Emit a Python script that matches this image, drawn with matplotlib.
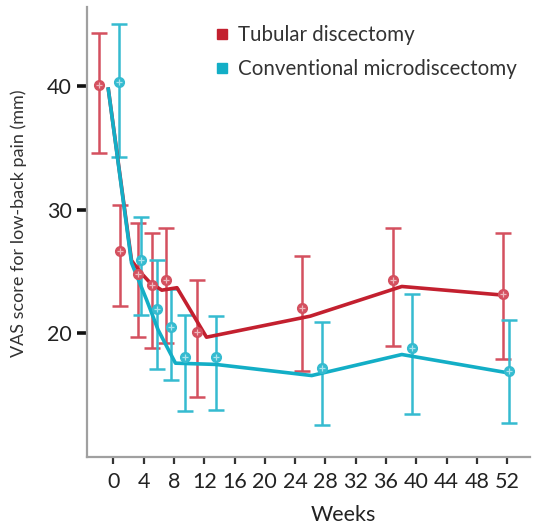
import matplotlib
matplotlib.use("Agg")
import matplotlib.pyplot as plt
from matplotlib.lines import Line2D
import numpy as np

plt.rcParams['font.family'] = ['Lato', 'DejaVu Sans']

# marker positions (weeks, dodged as in the picture), means and bar ends
tub_weeks = [-1.85, 0.9, 3.3, 5.1, 7.0, 11.0, 24.9, 36.9, 51.5]
tub_mean = [40.1, 26.7, 24.8, 23.9, 24.3, 20.1, 22.1, 24.3, 23.2]
tub_hi = [44.3, 30.4, 28.9, 28.1, 28.5, 24.3, 26.3, 28.5, 28.1]
tub_lo = [34.6, 22.2, 19.7, 18.8, 19.2, 14.9, 17.0, 19.0, 17.9]

con_weeks = [0.7, 3.6, 5.7, 7.6, 9.5, 13.6, 27.5, 39.4, 52.3]
con_mean = [40.3, 25.9, 22.0, 20.5, 18.1, 18.1, 17.2, 18.8, 17.0]
con_hi = [45.0, 29.4, 25.9, 23.6, 21.5, 21.4, 20.9, 23.2, 21.1]
con_lo = [34.3, 21.5, 17.1, 16.2, 13.7, 13.8, 12.6, 13.5, 12.8]

# trend lines
tub_line_x = [-0.7, 2.4, 3.5, 4.85, 6.4, 8.4, 12.3, 26.0, 38.1, 51.5]
tub_line_y = [39.9, 25.9, 25.0, 24.1, 23.5, 23.7, 19.7, 21.4, 23.8, 23.1]
con_line_x = [-0.7, 2.4, 4.4, 5.9, 8.2, 13.5, 26.2, 38.1, 52.3]
con_line_y = [39.9, 25.7, 22.7, 20.3, 17.6, 17.5, 16.6, 18.3, 16.8]

red = "#c3202f"
red_bar = "#d4505f"
cyan = "#13aec6"
cyan_bar = "#35bbd0"

fig = plt.figure(figsize=(5.33, 5.31), dpi=100)
ax = fig.add_axes([0.163, 0.139, 0.831, 0.848])


def series(xs, mean, lo, hi, line_x, line_y, c_line, c_bar):
    mean = np.asarray(mean)
    yerr = [mean - np.asarray(lo), np.asarray(hi) - mean]
    ax.errorbar(xs, mean, yerr=yerr, fmt="none", ecolor=c_bar, elinewidth=1.8,
                capsize=6, capthick=1.8, zorder=2)
    ax.plot(xs, mean, linestyle="none", marker="o", markersize=7,
            markerfacecolor=c_bar, markeredgecolor=c_bar, zorder=4)
    ax.plot(xs, mean, linestyle="none", marker="+", markersize=5,
            markeredgewidth=0.9, color="white", alpha=0.6, zorder=5)
    ax.plot(line_x, line_y, color=c_line, linewidth=2.6, zorder=3,
            solid_capstyle="butt")


series(tub_weeks, tub_mean, tub_lo, tub_hi, tub_line_x, tub_line_y, red, red_bar)
series(con_weeks, con_mean, con_lo, con_hi, con_line_x, con_line_y, cyan, cyan_bar)

ax.set_xlim(-3.5, 55)
ax.set_ylim(10, 46.4)
ax.set_xticks(np.arange(0, 53, 4))
ax.set_yticks([20, 30, 40])
ax.tick_params(axis="x", length=5, width=1.6, color="#333333", labelsize=15.5,
               pad=6, labelcolor="#222222")
ax.tick_params(axis="y", length=7, width=2.6, color="#111111", labelsize=15.5,
               pad=4, labelcolor="#222222")
for s in ["top", "right"]:
    ax.spines[s].set_visible(False)
for s in ["left", "bottom"]:
    ax.spines[s].set_color("#a0a0a0")
    ax.spines[s].set_linewidth(1.6)

ax.set_xlabel("Weeks", fontsize=15.5, color="#222222")
ax.xaxis.set_label_coords(0.578, -0.107)
ax.set_ylabel("VAS score for low-back pain (mm)", fontsize=13, color="#333333")
ax.yaxis.set_label_coords(-0.135, 0.52)

handles = [Line2D([], [], linestyle="none", marker="s", markersize=7, color=red),
           Line2D([], [], linestyle="none", marker="s", markersize=7, color=cyan)]
ax.legend(handles, ["Tubular discectomy", "Conventional microdiscectomy"],
          loc="upper left", bbox_to_anchor=(0.24, 1.0), frameon=False,
          fontsize=14.8, handletextpad=0.3, labelspacing=0.65, handlelength=1.0,
          labelcolor="#333333")

fig.savefig("out.png", dpi=100)
